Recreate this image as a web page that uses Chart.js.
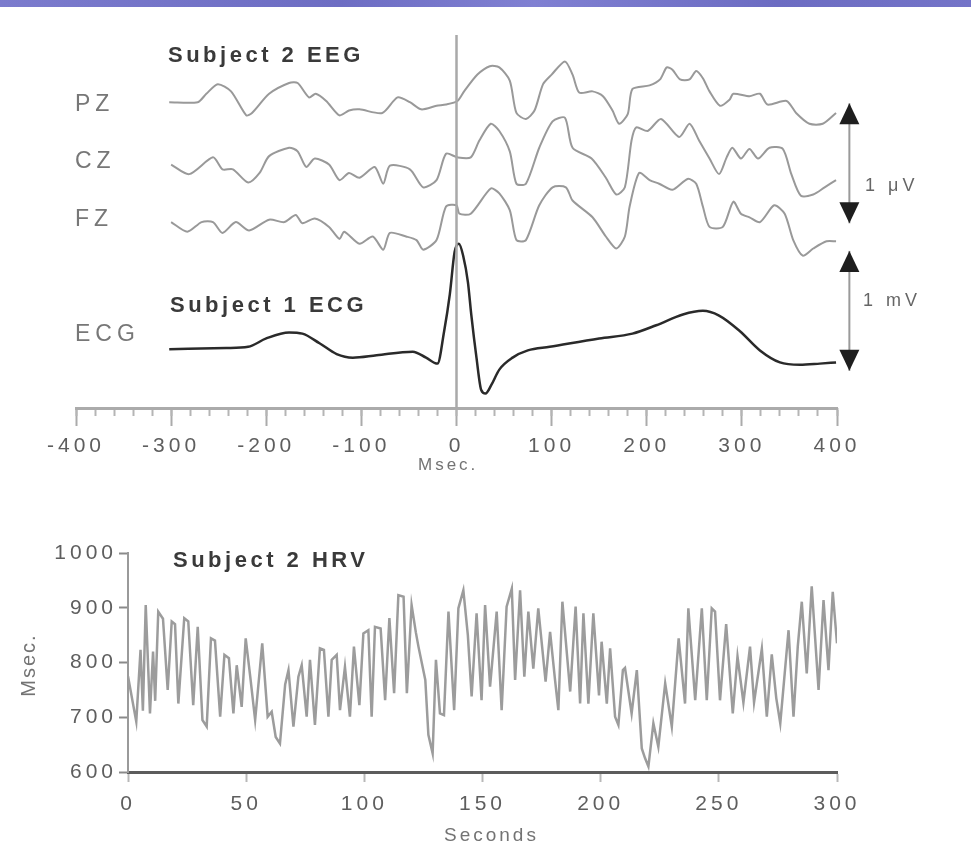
<!DOCTYPE html>
<html>
<head>
<meta charset="utf-8">
<script src="https://cdn.jsdelivr.net/npm/chart.js@4"></script>
<style>
  body { margin:0; width:971px; height:843px; background:#fff; position:relative; overflow:hidden; font-family:"Liberation Sans", Arial, sans-serif; }
  .banner { position:absolute; left:0; top:0; width:971px; height:7px; background:linear-gradient(90deg,#7b7bcd,#6d6dc3 35%,#8080d2 55%,#6c6cc2 80%,#7474c8); }
  canvas { position:absolute; left:0; }
  .lbl { position:absolute; color:#777; font-size:23px; letter-spacing:5px; white-space:nowrap; line-height:1; }
  .ttl { position:absolute; color:#3a3a3a; font-weight:bold; font-size:22px; letter-spacing:3.5px; white-space:nowrap; line-height:1; }
  .unit { position:absolute; color:#666; font-size:18px; letter-spacing:4px; white-space:nowrap; line-height:1; }
</style>
</head>
<body>
<div class="banner"></div>
<canvas id="eeg" width="971" height="480" style="top:0"></canvas>
<canvas id="hrv" width="971" height="363" style="top:480px"></canvas>

<div class="ttl" style="left:168px;top:44px">Subject 2 EEG</div>
<div class="lbl" style="left:75px;top:92px">PZ</div>
<div class="lbl" style="left:75px;top:149px">CZ</div>
<div class="lbl" style="left:75px;top:207px">FZ</div>
<div class="ttl" style="left:170px;top:294px">Subject 1 ECG</div>
<div class="lbl" style="left:75px;top:322px">ECG</div>
<div class="unit" style="left:865px;top:176px">1 μV</div>
<div class="unit" style="left:863px;top:291px">1 mV</div>
<div class="unit" style="left:418px;top:456px;font-size:17px;letter-spacing:3px;color:#737373">Msec.</div>

<div class="ttl" style="left:173px;top:549px">Subject 2 HRV</div>
<div class="unit" style="left:-7px;top:655px;width:70px;text-align:center;font-size:20px;letter-spacing:2px;color:#737373;transform:rotate(-90deg)">Msec.</div>
<div class="unit" style="left:444px;top:825px;font-size:19px;letter-spacing:3px;color:#737373">Seconds</div>

<script>
// top panel: time axis (ms) and traces (deviation from each trace's baseline)
const eegTicks = [-400, -300, -200, -100, 0, 100, 200, 300, 400];
const eegMinorStep = 20;

const pzTime = [-302,-272,-263,-251,-237,-221,-215,-197,-176,-167,-155,-148,-137,-123,-113,-102,-78,-62,-49,-37,-21,-11,1,8,22,35,45,56,63,73,82,91,100,114,122,129,143,154,164,171,180,185,203,214,221,227,235,245,252,259,266,277,287,291,308,319,327,347,357,371,385,399];
const pzVal = [-0.01,-0.01,0.06,0.14,0.08,-0.12,-0.10,0.06,0.15,0.15,0.03,0.06,0,-0.12,-0.08,-0.07,-0.10,0.03,-0.01,-0.07,-0.04,-0.03,0,0.08,0.22,0.29,0.28,0.17,-0.10,-0.15,-0.08,0.14,0.22,0.33,0.22,0.07,0.08,0.04,-0.08,-0.19,-0.11,0.10,0.13,0.18,0.28,0.26,0.18,0.18,0.25,0.19,0.08,-0.04,0.01,0.06,0.04,0.06,-0.03,0,-0.10,-0.19,-0.19,-0.10];

const czTime = [-300,-281,-256,-246,-235,-219,-207,-197,-176,-167,-158,-149,-134,-123,-113,-102,-86,-77,-70,-49,-35,-21,-11,1,15,24,36,45,56,63,73,87,101,114,122,142,157,168,177,184,189,201,215,234,245,255,266,276,284,290,299,308,317,329,343,352,362,375,387,399];
const czVal = [0.01,-0.07,0.07,-0.03,-0.03,-0.14,-0.06,0.08,0.15,0.12,-0.01,0.06,0.01,-0.12,-0.06,-0.10,-0.01,-0.15,0,-0.03,-0.18,-0.12,0.10,0.07,0.07,0.21,0.35,0.29,0.12,-0.15,-0.15,0.15,0.37,0.40,0.15,0.06,-0.10,-0.24,-0.18,0.21,0.32,0.29,0.39,0.24,0.35,0.21,0.06,-0.07,0.07,0.15,0.06,0.14,0.06,0.15,0.14,-0.07,-0.25,-0.24,-0.18,-0.12];

const fzTime = [-300,-283,-268,-256,-246,-232,-218,-197,-181,-169,-162,-149,-134,-123,-118,-102,-88,-77,-70,-53,-42,-35,-21,-11,0,3,15,36,45,56,63,73,87,101,115,122,143,157,168,177,182,192,203,213,227,243,252,259,266,280,291,299,308,319,334,345,354,364,375,389,399];
const fzVal = [0,-0.08,0,0,-0.09,0,-0.07,0.02,0,0.06,-0.01,0.03,-0.04,-0.14,-0.08,-0.18,-0.12,-0.23,-0.09,-0.12,-0.15,-0.23,-0.15,0.13,0.14,0.07,0.07,0.28,0.24,0.10,-0.15,-0.15,0.14,0.29,0.29,0.18,0.04,-0.12,-0.22,-0.12,0.13,0.41,0.35,0.32,0.27,0.36,0.32,0.13,-0.04,-0.04,0.17,0.07,0.04,0,0.14,0.07,-0.15,-0.28,-0.22,-0.16,-0.16];

const ecgTime = [-302,-242,-219,-200,-176,-162,-144,-126,-109,-84,-46,-32,-20,-13,-7,-2,2.5,7,12,15.5,21,26,30.5,36.5,45,59,75,98,150,185,210,238,259,276,298,319,340,361,382,399];
const ecgVal = [0.01,0.02,0.03,0.10,0.15,0.14,0.06,-0.03,-0.06,-0.04,-0.01,-0.06,-0.11,0.16,0.47,0.82,0.89,0.79,0.57,0.30,-0.06,-0.33,-0.36,-0.29,-0.16,-0.06,0,0.03,0.10,0.14,0.21,0.30,0.33,0.29,0.16,0,-0.10,-0.12,-0.11,-0.10];

// vertical offsets of the traces and the calibration bars
const traceOffset = { PZ: 2.08, CZ: 1.54, FZ: 1.07, ECG: 0 };
const eegRange = [-0.48, 2.63];
const calibX = 413;
const uvBar = [1.06, 2.06];
const mvBar = [-0.17, 0.83];

// bottom panel
const hrvXTicks = [0, 50, 100, 150, 200, 250, 300];
const hrvYTicks = [600, 700, 800, 900, 1000];
const hrvTime = [0,3.5,5.3,6.3,7.5,9.3,10.6,11.5,12.8,14.8,16.8,18.5,19.9,21.3,23.8,25.5,27.6,29.5,31.5,33.3,35.1,36.8,39.0,40.8,42.7,44.6,46.0,48.1,49.8,51.7,53.8,56.8,59.1,60.8,62.5,64.3,66.5,67.9,70.0,72.1,73.5,75.6,77.0,79.1,81.2,82.9,84.8,86.2,88.3,89.7,91.8,93.9,95.6,97.9,99.6,101.7,103.1,104.5,106.9,108.8,110.6,112.6,114.4,116.6,118.0,120.0,121.8,122.9,125.8,127.1,128.9,130.3,132.0,133.7,135.6,138.0,139.8,141.9,143.8,145.4,147.5,149.6,151.1,153.2,156.0,158.1,160.2,162.4,163.8,165.9,167.7,169.4,171.5,173.6,176.7,178.6,180.7,182.1,183.8,187.1,189.4,191.3,192.7,194.8,196.9,199.3,200.4,202.6,204.0,206.1,207.5,209.4,210.3,213.1,215.3,217.4,218.8,220.2,222.3,224.4,227.3,230.1,233.0,235.7,237.1,240.0,242.8,244.9,247.0,248.4,250.5,253.1,255.9,257.9,260.4,263.2,264.9,268.2,270.3,272.4,274.3,276.0,279.5,281.6,283.4,285.1,287.2,289.3,292.2,294.3,296.4,298.2,300];
const hrvVal = [775,692,823,712,905,707,820,730,893,880,750,875,870,725,881,875,722,865,695,683,844,840,701,814,808,707,795,719,844,775,695,835,701,710,664,652,760,786,683,774,795,701,805,686,826,823,701,805,814,713,792,701,829,722,853,859,701,865,862,731,881,744,923,920,744,905,855,829,768,668,634,805,707,704,893,713,899,932,850,738,890,731,905,756,893,713,902,935,768,932,774,893,789,899,765,856,768,713,911,747,902,725,890,725,890,740,838,725,826,701,686,786,790,707,786,643,625,610,689,646,762,683,844,725,899,731,899,731,899,893,731,870,707,811,727,829,727,825,701,815,735,689,859,701,829,911,780,939,750,914,786,929,835];

Chart.defaults.font.family = '"Liberation Sans", Arial, sans-serif';
Chart.defaults.animation = false;

function trace(times, vals, offset) {
  return times.map((t, i) => ({ x: t, y: vals[i] + offset }));
}

// wider letter spacing like the scanned figure
const spacing = {
  id: "spacing",
  beforeDraw(chart) { chart.ctx.letterSpacing = "4px"; }
};

// arrow heads on the calibration bars
const arrowHeads = {
  id: "arrowHeads",
  afterDatasetsDraw(chart) {
    const ctx = chart.ctx;
    chart.data.datasets.forEach((ds, i) => {
      if (!ds.arrowHeads) return;
      const pts = chart.getDatasetMeta(i).data;
      const lo = pts[0], hi = pts[1];
      ctx.save();
      ctx.fillStyle = "#1e1e1e";
      [[hi, 1], [lo, -1]].forEach(([p, dir]) => {
        ctx.beginPath();
        ctx.moveTo(p.x, p.y);
        ctx.lineTo(p.x - 10, p.y + dir * 21);
        ctx.lineTo(p.x + 10, p.y + dir * 21);
        ctx.closePath();
        ctx.fill();
      });
      ctx.restore();
    });
  }
};

const eegLine = (data, color, width, extra) => Object.assign({
  data: data, borderColor: color, borderWidth: width, pointRadius: 0, tension: 0.25, clip: false
}, extra || {});

const plain = (v) => String(v);

new Chart(document.getElementById("eeg"), {
  type: "line",
  data: {
    datasets: [
      eegLine([{ x: 0, y: eegRange[0] }, { x: 0, y: eegRange[1] }], "#a9a9a9", 2.5, { tension: 0 }),
      eegLine(trace(pzTime, pzVal, traceOffset.PZ), "#999", 2),
      eegLine(trace(czTime, czVal, traceOffset.CZ), "#999", 2),
      eegLine(trace(fzTime, fzVal, traceOffset.FZ), "#999", 2),
      eegLine(trace(ecgTime, ecgVal, traceOffset.ECG), "#2a2a2a", 2.5, { tension: 0, cubicInterpolationMode: "monotone" }),
      eegLine([{ x: calibX, y: uvBar[0] }, { x: calibX, y: uvBar[1] }], "#9a9a9a", 2, { tension: 0, arrowHeads: true }),
      eegLine([{ x: calibX, y: mvBar[0] }, { x: calibX, y: mvBar[1] }], "#9a9a9a", 2, { tension: 0, arrowHeads: true })
    ]
  },
  options: {
    responsive: false,
    layout: { padding: { left: 76, right: 134, top: 35, bottom: 0 } },
    plugins: { legend: { display: false }, tooltip: { enabled: false } },
    scales: {
      x: {
        type: "linear", position: "bottom",
        min: eegTicks[0], max: eegTicks[eegTicks.length - 1],
        afterFit: (s) => { s.height = 72; },
        border: { color: "#ababab", width: 3 },
        grid: { drawOnChartArea: false, tickLength: 18, tickWidth: 2, tickColor: "#ababab" },
        ticks: { stepSize: 100, autoSkip: false, maxRotation: 0, padding: 8, color: "#5e5e5e", font: { size: 21 }, callback: plain }
      },
      xm: {
        type: "linear", position: { y: eegRange[0] },
        min: eegTicks[0], max: eegTicks[eegTicks.length - 1],
        border: { display: false },
        grid: { drawOnChartArea: false, tickLength: 8, tickWidth: 2, tickColor: "#b5b5b5" },
        ticks: { stepSize: eegMinorStep, autoSkip: false, display: false }
      },
      y: { display: false, min: eegRange[0], max: eegRange[1] }
    }
  },
  plugins: [spacing, arrowHeads]
});

new Chart(document.getElementById("hrv"), {
  type: "line",
  data: {
    datasets: [{
      data: trace(hrvTime, hrvVal, 0),
      borderColor: "#9c9c9c", borderWidth: 2.5, pointRadius: 0, tension: 0
    }]
  },
  options: {
    responsive: false,
    layout: { padding: { left: 0, right: 134, top: 73, bottom: 0 } },
    plugins: { legend: { display: false }, tooltip: { enabled: false } },
    scales: {
      x: {
        type: "linear", min: hrvXTicks[0], max: hrvXTicks[hrvXTicks.length - 1],
        afterFit: (s) => { s.height = 71; },
        border: { color: "#5c5c5c", width: 3 },
        grid: { drawOnChartArea: false, tickLength: 10, tickWidth: 2, tickColor: "#b8b8b8" },
        ticks: { stepSize: 50, autoSkip: false, maxRotation: 0, padding: 10, color: "#5e5e5e", font: { size: 21 }, callback: plain }
      },
      y: {
        min: hrvYTicks[0], max: hrvYTicks[hrvYTicks.length - 1],
        afterFit: (s) => { s.width = 128; },
        border: { color: "#9a9a9a", width: 2 },
        grid: { drawOnChartArea: false, tickLength: 9, tickWidth: 2, tickColor: "#8a8a8a" },
        ticks: { stepSize: 100, autoSkip: false, padding: 2, color: "#5e5e5e", font: { size: 21 }, callback: plain }
      }
    }
  },
  plugins: [spacing]
});
</script>
</body>
</html>
